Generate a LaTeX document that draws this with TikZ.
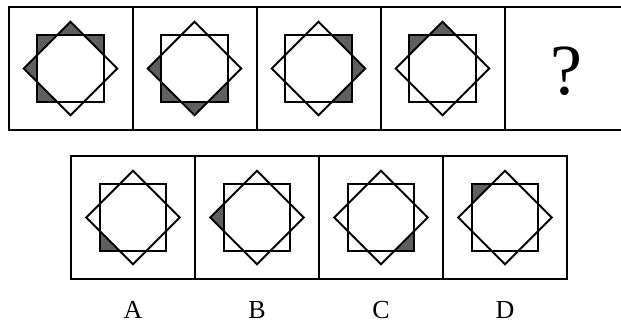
\documentclass[tikz,border=0pt]{standalone}
\usepackage{fontspec}
\setmainfont{Liberation Serif}
\usetikzlibrary{positioning}

\begin{document}
\begin{tikzpicture}[x=1pt, y=1pt,
  panel/.style={draw, line width=2pt, minimum width=124pt, minimum height=123pt,
    inner sep=0pt, outer sep=0pt},
  figline/.style={line width=2pt, line join=miter},
  optlabel/.style={font=\fontsize{26}{26}\selectfont, anchor=base, inner sep=0pt}]
% Square and its 45-degree twin; the eight small corner triangles
% are coloured or left blank. Corners sit at 46.7, the crossings at 35.7.
\definecolor{tilegray}{RGB}{95,95,95}
\useasboundingbox (0,0) rectangle (621,326);
% question row
\node[panel] (t1) at (70.5,257.5) {};
\node[panel] (t2) [right=0pt of t1] {};
\node[panel] (t3) [right=0pt of t2] {};
\node[panel] (t4) [right=0pt of t3] {};
\node[panel] (t5) [right=0pt of t4] {};
\node[font=\fontsize{72}{72}\selectfont, inner sep=0pt] (q) at ([yshift=-3pt]t5.center) {?};
% answer row
\node[panel] (b1) at (133,108.5) {};
\node[panel] (b2) [right=0pt of b1] {};
\node[panel] (b3) [right=0pt of b2] {};
\node[panel] (b4) [right=0pt of b3] {};
\node[optlabel] (la) at ([yshift=-40pt]b1.south) {A};
\node[optlabel] (lb) at ([yshift=-40pt]b2.south) {B};
\node[optlabel] (lc) at ([yshift=-40pt]b3.south) {C};
\node[optlabel] (ld) at ([yshift=-40pt]b4.south) {D};
\foreach \p/\marks in {t1/{45,90,135,180,225}, t2/{180,225,270,315},
    t3/{0,45,315}, t4/{90,135}, b1/{225}, b2/{180}, b3/{315}, b4/{135}} {
  \begin{scope}[shift={(\p.center)}]
    \foreach \a in \marks {
      \fill[tilegray] (\a:46.7) -- (\a-22.5:35.7) -- (\a+22.5:35.7) -- cycle;
    }
    \draw[figline] (45:46.7) -- (135:46.7) -- (225:46.7) -- (315:46.7) -- cycle;
    \draw[figline] (0:46.7) -- (90:46.7) -- (180:46.7) -- (270:46.7) -- cycle;
  \end{scope}
}
\end{tikzpicture}
\end{document}
